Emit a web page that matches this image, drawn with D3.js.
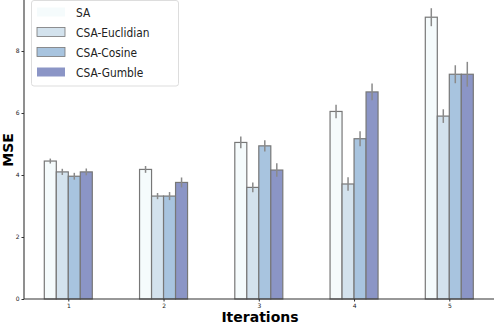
<!DOCTYPE html>
<meta charset="utf-8">
<html>
<head>
<style>
  body { margin: 0; background: #fff; }
  text { font-family: "DejaVu Sans", sans-serif; }
</style>
</head>
<body>
<svg width="494" height="324"></svg>
<script src="https://d3js.org/d3.v7.min.js"></script>
<script>
var iterations = [1, 2, 3, 4, 5];
var methods = ["SA", "CSA-Euclidian", "CSA-Cosine", "CSA-Gumble"];
var colors = ["#f5fbfc", "#d3e2ed", "#a8c4df", "#8b95c6"];
var yTicks = [0, 2, 4, 6, 8];

// mean MSE per method, one value per iteration
var saMean    = [4.45, 4.18, 5.05, 6.05, 9.09];
var eucMean   = [4.10, 3.32, 3.60, 3.71, 5.90];
var cosMean   = [3.96, 3.32, 4.94, 5.17, 7.25];
var gumMean   = [4.10, 3.76, 4.16, 6.68, 7.25];
// error bar half-lengths
var saErr  = [0.08, 0.11, 0.19, 0.22, 0.29];
var eucErr = [0.10, 0.10, 0.16, 0.22, 0.22];
var cosErr = [0.11, 0.13, 0.18, 0.24, 0.29];
var gumErr = [0.11, 0.16, 0.22, 0.27, 0.40];

var means = [saMean, eucMean, cosMean, gumMean];
var errs = [saErr, eucErr, cosErr, gumErr];

var svg = d3.select("svg");

var x = d3.scaleLinear().domain([1, 5]).range([68.3, 449.3]);
var y = d3.scaleLinear().domain([0, 8]).range([299, 51]);
var barW = 12;

var bars = [];
methods.forEach(function(m, j) {
  iterations.forEach(function(it, i) {
    bars.push({m: j, it: it, v: means[j][i], e: errs[j][i]});
  });
});

svg.selectAll("rect.bar")
  .data(bars)
  .enter().append("rect")
    .attr("class", "bar")
    .attr("x", function(d) { return x(d.it) - 2 * barW + d.m * barW; })
    .attr("y", function(d) { return y(d.v); })
    .attr("width", barW)
    .attr("height", function(d) { return y(0) - y(d.v); })
    .attr("fill", function(d) { return colors[d.m]; })
    .attr("stroke", "#777")
    .attr("stroke-width", 1.2);

svg.selectAll("line.err")
  .data(bars)
  .enter().append("line")
    .attr("class", "err")
    .attr("x1", function(d) { return x(d.it) - 2 * barW + d.m * barW + barW / 2; })
    .attr("x2", function(d) { return x(d.it) - 2 * barW + d.m * barW + barW / 2; })
    .attr("y1", function(d) { return y(d.v - d.e); })
    .attr("y2", function(d) { return y(d.v + d.e); })
    .attr("stroke", "#8a8a8a")
    .attr("stroke-width", 1.5);

// axes
var xAxis = svg.append("g")
    .attr("transform", "translate(0,299)")
    .call(d3.axisBottom(x).tickValues(iterations).tickFormat(d3.format("d")).tickSize(2.5).tickPadding(2));
xAxis.select(".domain").attr("d", "M24,0H494");

var yAxis = svg.append("g")
    .attr("transform", "translate(24,0)")
    .call(d3.axisLeft(y).tickValues(yTicks).tickFormat(d3.format("d")).tickSize(2.5).tickPadding(2));
yAxis.select(".domain").attr("d", "M0,0V299");

svg.selectAll(".tick text").attr("font-size", 6).attr("fill", "#222");
svg.selectAll(".tick line").attr("stroke", "#333");
svg.selectAll(".domain").attr("stroke", "#333").attr("stroke-width", 1.1);

svg.append("text")
    .attr("transform", "translate(12.5,150) rotate(-90)")
    .attr("text-anchor", "middle")
    .attr("font-size", 14)
    .attr("font-weight", "bold")
    .text("MSE");

svg.append("text")
    .attr("x", 260)
    .attr("y", 322)
    .attr("text-anchor", "middle")
    .attr("font-size", 14)
    .attr("font-weight", "bold")
    .text("Iterations");

// legend
var legend = svg.append("g");
legend.append("rect")
    .attr("x", 31.5).attr("y", 0.5)
    .attr("width", 147).attr("height", 85.5)
    .attr("rx", 2.5)
    .attr("fill", "#fff")
    .attr("fill-opacity", 0.85)
    .attr("stroke", "#ddd");

var items = legend.selectAll("g.item")
  .data(methods)
  .enter().append("g")
    .attr("class", "item")
    .attr("transform", function(d, i) { return "translate(0," + (12 + i * 20) + ")"; });

items.append("rect")
    .attr("x", 37).attr("y", -4.5)
    .attr("width", 28).attr("height", 9)
    .attr("fill", function(d, i) { return colors[i]; })
    .attr("stroke", function(d, i) { return (i === 1 || i === 2) ? "#777" : "none"; })
    .attr("stroke-width", 0.8);

items.append("text")
    .attr("transform", "translate(76,5) scale(0.82,1)")
    .attr("font-size", 13)
    .attr("fill", "#222")
    .text(function(d) { return d; });
</script>
</body>
</html>
